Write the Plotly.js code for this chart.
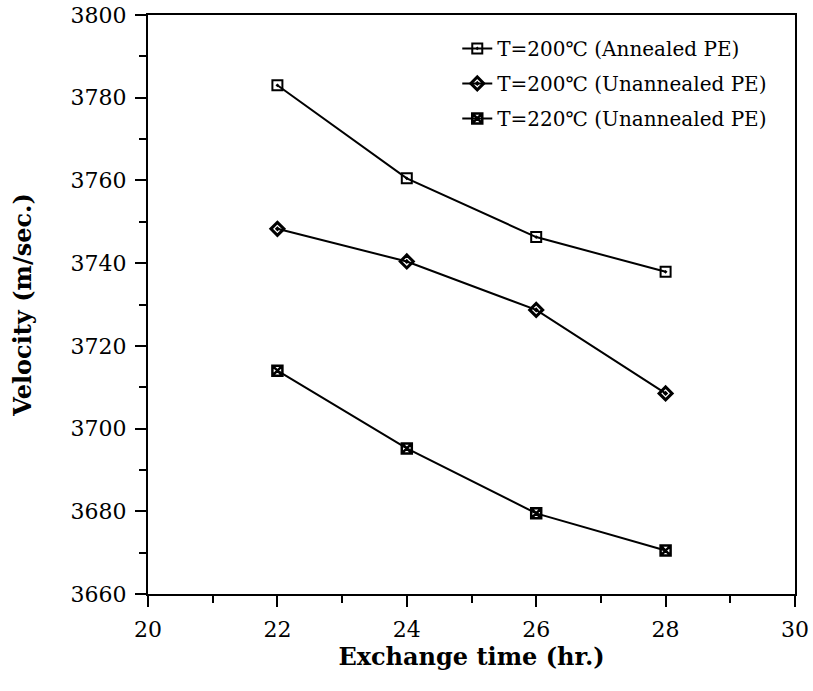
<!DOCTYPE html>
<html>
<head>
<meta charset="utf-8">
<script src="https://cdn.plot.ly/plotly-3.0.1.min.js"></script>
<style>html,body{margin:0;padding:0;background:#fff;}#chart{width:813px;height:691px;}</style>
</head>
<body>
<div id="chart"></div>
<script>
const exchangeTime = [22, 24, 26, 28];
const annealed200 = [3783, 3760.5, 3746.3, 3737.9];
const unannealed200 = [3748.3, 3740.4, 3728.7, 3708.5];
const unannealed220 = [3714, 3695.2, 3679.5, 3670.5];
const seriesNames = ["T=200\u2103 (Annealed PE)", "T=200\u2103 (Unannealed PE)", "T=220\u2103 (Unannealed PE)"];
const xTicks = [20, 22, 24, 26, 28, 30];
const yTicks = [3660, 3680, 3700, 3720, 3740, 3760, 3780, 3800];

const FONT = "DejaVu Serif, Liberation Serif, serif";
const mk = (name, y, symbol, size, lw, g) => ({
  type: "scatter", mode: "lines+markers", x: exchangeTime, y: y, name: name,
  legendgroup: g,
  line: {color: "#000", width: 2},
  marker: {symbol: symbol, size: size, color: "#000", line: {color: "#000", width: lw}}
});
const data = [
  mk(seriesNames[0], annealed200, "square-open-dot", 10, 2, "a"),
  mk(seriesNames[1], unannealed200, "diamond-open-dot", 10, 3, "b"),
  mk(seriesNames[2], unannealed220, "square-x-open", 10, 2.5, "c")
];
const layout = {
  width: 813, height: 691,
  margin: {l: 148, r: 18, t: 15, b: 97},
  paper_bgcolor: "#fff", plot_bgcolor: "#fff",
  font: {family: FONT, color: "#000", size: 20},
  showlegend: true,
  legend: {x: 0.478, y: 0.976, xanchor: "left", yanchor: "top",
    bgcolor: "rgba(0,0,0,0)", borderwidth: 0, traceorder: "grouped", tracegroupgap: 6,
    font: {family: FONT, size: 20, color: "#000"}},
  xaxis: {
    range: [20, 30], tickvals: xTicks, ticktext: xTicks.map(String),
    ticks: "outside", ticklen: 11, tickwidth: 2, tickcolor: "#000",
    minor: {dtick: 1, tick0: 20, ticks: "outside", ticklen: 7, tickwidth: 2, tickcolor: "#000"},
    showline: true, linewidth: 2, linecolor: "#000", mirror: true,
    showgrid: false, zeroline: false,
    ticklabelstandoff: 4,
    tickfont: {family: FONT, size: 22},
    title: {text: "<b>Exchange time (hr.)</b>", font: {family: FONT, size: 24}, standoff: 6}
  },
  yaxis: {
    range: [3660, 3800], tickvals: yTicks, ticktext: yTicks.map(String),
    ticks: "outside", ticklen: 11, tickwidth: 2, tickcolor: "#000",
    minor: {dtick: 10, tick0: 3660, ticks: "outside", ticklen: 7, tickwidth: 2, tickcolor: "#000"},
    showline: true, linewidth: 2, linecolor: "#000", mirror: true,
    showgrid: false, zeroline: false,
    ticklabelstandoff: 4,
    tickfont: {family: FONT, size: 22},
    title: {text: "<b>Velocity (m/sec.)</b>", font: {family: FONT, size: 24}, standoff: 32}
  }
};
Plotly.newPlot("chart", data, layout, {displayModeBar: false, staticPlot: true});
</script>
</body>
</html>
